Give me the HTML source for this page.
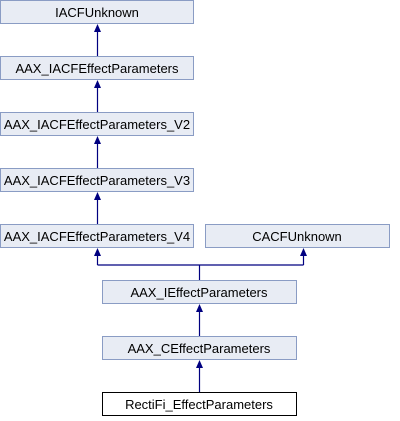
<!DOCTYPE html>
<html><head><style>
body{margin:0;width:400px;height:416px;background:#fff;overflow:hidden}
svg text{font-family:"Liberation Sans",sans-serif;font-size:13px;fill:#000;text-anchor:middle}
</style></head><body>
<svg width="400" height="416" xmlns="http://www.w3.org/2000/svg">
<g fill="#e8ecf4" stroke="#8a9cc4" stroke-width="1">
<rect x="0.5" y="0.5" width="193" height="23"/>
<rect x="0.5" y="56.5" width="193" height="23"/>
<rect x="0.5" y="112.5" width="193" height="23"/>
<rect x="0.5" y="168.5" width="193" height="23"/>
<rect x="0.5" y="224.5" width="193" height="23"/>
<rect x="205.5" y="224.5" width="184" height="23"/>
<rect x="102.5" y="280.5" width="194" height="23"/>
<rect x="102.5" y="336.5" width="194" height="23"/>
</g>
<rect x="102.5" y="392.5" width="194" height="23" fill="#fff" stroke="#000"/>
<g>
<text x="97" y="17">IACFUnknown</text>
<text x="97" y="73">AAX_IACFEffectParameters</text>
<text x="97" y="129">AAX_IACFEffectParameters_V2</text>
<text x="97" y="185">AAX_IACFEffectParameters_V3</text>
<text x="97" y="241">AAX_IACFEffectParameters_V4</text>
<text x="297" y="241">CACFUnknown</text>
<text x="199" y="297">AAX_IEffectParameters</text>
<text x="199" y="353">AAX_CEffectParameters</text>
<text x="199" y="409">RectiFi_EffectParameters</text>
</g>
<g stroke="#000080" stroke-width="1.2" fill="none">
<path d="M97.5 56V30M97.5 112V86M97.5 168V142M97.5 224V198"/>
<path d="M199.5 280V265M97.5 265H303.5M97.5 265V254M303.5 265V254"/>
<path d="M199.5 336V310M199.5 392V366"/>
</g>
<g fill="#000080">
<path d="M97.5 24l-3.5 8h7z"/>
<path d="M97.5 80l-3.5 8h7z"/>
<path d="M97.5 136l-3.5 8h7z"/>
<path d="M97.5 192l-3.5 8h7z"/>
<path d="M97.5 248l-3.5 8h7z"/>
<path d="M303.5 248l-3.5 8h7z"/>
<path d="M199.5 304l-3.5 8h7z"/>
<path d="M199.5 360l-3.5 8h7z"/>
</g>
</svg>
</body></html>
